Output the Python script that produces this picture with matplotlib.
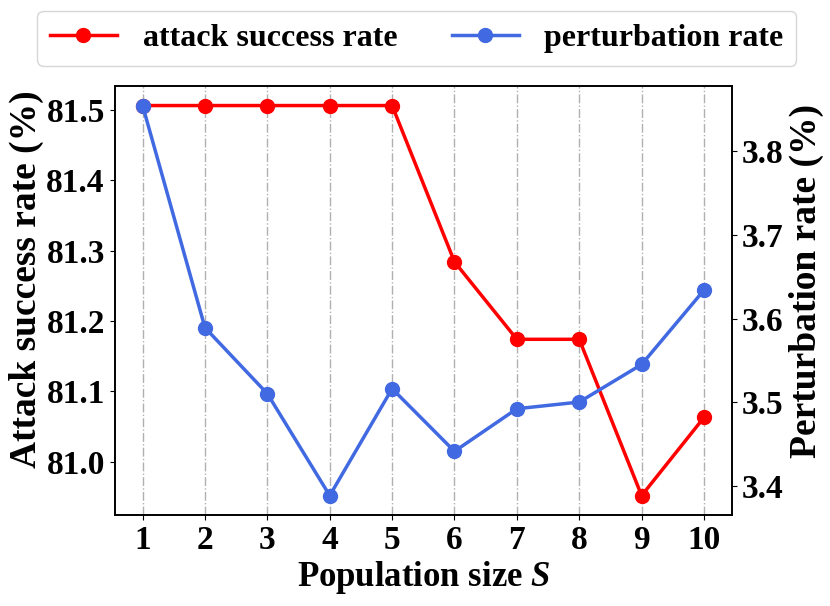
import matplotlib
matplotlib.use("Agg")
import matplotlib.pyplot as plt

plt.rcParams['font.family'] = ['Liberation Serif', 'DejaVu Serif']
plt.rcParams['font.weight'] = 'bold'
plt.rcParams['mathtext.fontset'] = 'custom'
plt.rcParams['mathtext.it'] = 'Liberation Serif:italic:bold'
plt.rcParams['mathtext.rm'] = 'Liberation Serif:bold'

pop_size = [1, 2, 3, 4, 5, 6, 7, 8, 9, 10]
attack_success = [81.506, 81.506, 81.506, 81.506, 81.506, 81.284, 81.174, 81.174, 80.952, 81.063]
perturbation = [3.855, 3.589, 3.510, 3.388, 3.516, 3.441, 3.492, 3.500, 3.545, 3.634]

fig = plt.figure(figsize=(8.3, 6.06), dpi=100)
ax = fig.add_axes([0.138, 0.150, 0.744, 0.708])
ax2 = ax.twinx()

l1, = ax.plot(pop_size, attack_success, color='#ff0000', marker='o', lw=2.5, ms=10,
              label='attack success rate', zorder=3)
l2, = ax2.plot(pop_size, perturbation, color='#4169e1', marker='o', lw=2.5, ms=10,
               label='perturbation rate', zorder=3)

ax.set_xticks(pop_size)
ax.xaxis.grid(True, linestyle='-.', color='#b0b0b0', lw=1)
ax.set_xlabel('Population size $S$', fontsize=25, fontweight='bold', labelpad=2)
ax.set_ylabel('Attack success rate (%)', fontsize=27, fontweight='bold', labelpad=2)
ax2.set_ylabel('Perturbation rate (%)', fontsize=27, fontweight='bold', labelpad=4)
ax.yaxis.label.set_y(0.55)
ax2.yaxis.label.set_y(0.545)
ax.set_yticks([81.0, 81.1, 81.2, 81.3, 81.4, 81.5])
ax2.set_yticks([3.4, 3.5, 3.6, 3.7, 3.8])
for a in (ax, ax2):
    a.tick_params(labelsize=24)
    for t in a.get_xticklabels() + a.get_yticklabels():
        t.set_fontweight('bold')
    for s in a.spines.values():
        s.set_linewidth(1.2)

fig.legend(handles=[l1, l2], loc='center', bbox_to_anchor=(0.502, 0.937), ncol=2,
           columnspacing=1.7, handlelength=2.1, handletextpad=0.8, borderpad=0.4,
           prop={'weight': 'bold', 'size': 23})

fig.savefig('out.png', dpi=100)
